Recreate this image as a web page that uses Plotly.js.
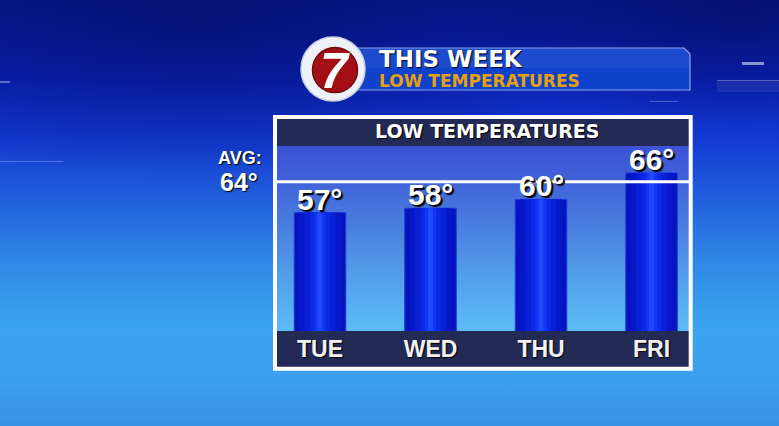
<!DOCTYPE html>
<html><head><meta charset="utf-8">
<script src="https://cdn.plot.ly/plotly-3.0.1.min.js"></script>
<style>
html,body{margin:0;padding:0;width:779px;height:426px;overflow:hidden;}
#bg{position:absolute;left:0;top:0;width:779px;height:426px;
 background:
  radial-gradient(ellipse 420px 160px at 200px 20px, rgba(4,10,90,0.55), rgba(4,10,90,0) 100%),
  radial-gradient(ellipse 300px 120px at 740px 10px, rgba(4,10,90,0.6), rgba(4,10,90,0) 100%),
  linear-gradient(to bottom,#07188f 0%,#0a22b8 18%,#1238d2 32%,#2262dc 48%,#3189e6 62%,#3aa3f0 76%,#3ca0ee 88%,#3a90e2 100%);}
#plotbg{position:absolute;left:277px;top:146px;width:412px;height:185px;
 background:linear-gradient(to bottom,#3b52d5 0%,#4266d9 22%,#4a80df 45%,#529ee9 70%,#5cbcf7 100%);}
#chart{position:absolute;left:0;top:0;width:779px;height:426px;}
</style></head>
<body>
<div id="bg"></div>
<div id="plotbg"></div>
<div id="chart"></div>
<script>
const days = ['TUE','WED','THU','FRI'];
const lows = [57,58,60,66];
const avgLow = 64;
const chartTitle = 'LOW TEMPERATURES';
const bannerTitle = 'THIS WEEK';
const bannerSub = 'LOW TEMPERATURES';
const avgLabel = 'AVG:';
const logoText = '7';

const L=277, W=412, B=331, H=185;
const px = x => (x-L)/W;
const py = y => (B-y)/H;

const layers = [
 {w:0.466, c:'#0514bf', line:'#1c38d8'},
 {w:0.38, c:'#0618ca'},
 {w:0.28, c:'#0820d6'},
 {w:0.18, c:'#0c2ae6'},
 {w:0.10, c:'#1436f4'},
 {w:0.045, c:'#2048ff'}
];
const traces = layers.map((l,i)=>({
  type:'bar', x:days, y:lows, width:l.w,
  marker:{color:l.c, line:{width:i===0?1:0, color:l.line||l.c}},
  hoverinfo:'skip', showlegend:false
}));

const white = '#ffffff';
const bold = {family:'Liberation Sans, Arial, sans-serif', weight:700, color:white};
const wide = {family:'DejaVu Sans, sans-serif', weight:700};

function rect(x0,y0,x1,y1,fill,extra){
  return Object.assign({type:'rect',xref:'paper',yref:'paper',x0:px(x0),x1:px(x1),y0:py(y1),y1:py(y0),fillcolor:fill,line:{width:0},layer:'below'},extra||{});
}
function circ(cx,cy,r,fill,lc,lw){
  return {type:'circle',xref:'paper',yref:'paper',x0:px(cx-r),x1:px(cx+r),y0:py(cy+r),y1:py(cy-r),fillcolor:fill,line:{color:lc,width:lw},layer:'above'};
}
function pathP(pts,fill,lc,lw){
  let d='M'+pts.map(p=>px(p[0])+','+py(p[1])).join(' L')+' Z';
  return {type:'path',xref:'paper',yref:'paper',path:d,fillcolor:fill,line:{color:lc,width:lw},layer:'above'};
}
function note(x,y,text,font,xanchor){
  return {xref:'paper',yref:'paper',x:px(x),y:py(y),text:text,showarrow:false,borderpad:0,
    xanchor:xanchor||'center',yanchor:'middle',font:font};
}

const shapes = [
  // background decorations
  rect(0,81,10,83,'rgba(255,255,255,0.35)'),
  rect(0,161,63,162,'rgba(255,255,255,0.25)'),
  rect(742,62,764,65,'rgba(220,230,255,0.6)'),
  rect(717,80,779,92,'rgba(255,255,255,0.07)'),
  rect(717,80,779,81,'rgba(255,255,255,0.25)'),
  rect(650,101,678,102,'rgba(255,255,255,0.25)'),
  // chart header and footer bands
  rect(277,119,689,146,'#232a56'),
  rect(277,331,689,367,'#232a56'),
  // average line
  {type:'line',xref:'paper',yref:'y',x0:0,x1:1,y0:avgLow,y1:avgLow,line:{color:white,width:3},layer:'above'},
  // chart border
  {type:'rect',xref:'paper',yref:'paper',x0:px(275),x1:px(690.7),y0:py(368.7),y1:py(117),fillcolor:'rgba(0,0,0,0)',line:{color:white,width:4},layer:'above'},
  // banner
  pathP([[340,48],[684,48],[690,54],[690,90],[340,90]],'#1142cc','#8fa6e6',1.2),
  rect(341,49,689,68,'rgba(255,255,255,0.05)',{layer:'above'}),
  // logo
  circ(333,69,32,'#eef2f8','#c9d3e6',1.5),
  circ(335,70,22.5,'#a30f15','#6e0a0d',1.5)
];

const annotations = lows.map((v,i)=>({
  x:days[i], y:v, xref:'x', yref:'y', text:v+'°', showarrow:false,
  xanchor:'center', yanchor:'bottom', yshift:-5,
  font:Object.assign({size:30, shadow:'2px 2px 1px #000'}, bold)
}));
annotations.push(
  note(487,131.5,chartTitle,Object.assign({size:19,color:white,shadow:'1px 1px 1px #000'},wide)),
  note(240,158,avgLabel,Object.assign({size:18,shadow:'1px 1px 1px #000'},bold)),
  note(239,182,avgLow+'°',Object.assign({size:25,shadow:'1px 1px 1px #000'},bold)),
  note(378,59.5,bannerTitle,Object.assign({size:23,color:white,shadow:'1px 1px 1px #002'},wide),'left'),
  note(378,81,bannerSub,Object.assign({size:17,color:'#e6a00e'},wide),'left'),
  note(335,71,logoText,{family:'Liberation Sans, Arial, sans-serif',weight:700,style:'italic',size:50,color:white})
);

const layout = {
  width:779, height:426,
  margin:{l:L, r:779-L-W, t:146, b:426-B},
  paper_bgcolor:'rgba(0,0,0,0)', plot_bgcolor:'rgba(0,0,0,0)',
  barmode:'overlay', showlegend:false,
  xaxis:{type:'category', range:[-0.389,3.339], showgrid:false, zeroline:false, showline:false,
    ticks:'', ticklabelstandoff:2,
    tickfont:Object.assign({size:23, shadow:'1px 1px 1px #000'}, bold, {color:'#f2f2f2'}), fixedrange:true},
  yaxis:{range:[30.2,72.1], visible:false, showgrid:false, zeroline:false, fixedrange:true},
  shapes:shapes, annotations:annotations
};
Plotly.newPlot('chart', traces, layout, {displayModeBar:false, staticPlot:true});
</script>
</body></html>
